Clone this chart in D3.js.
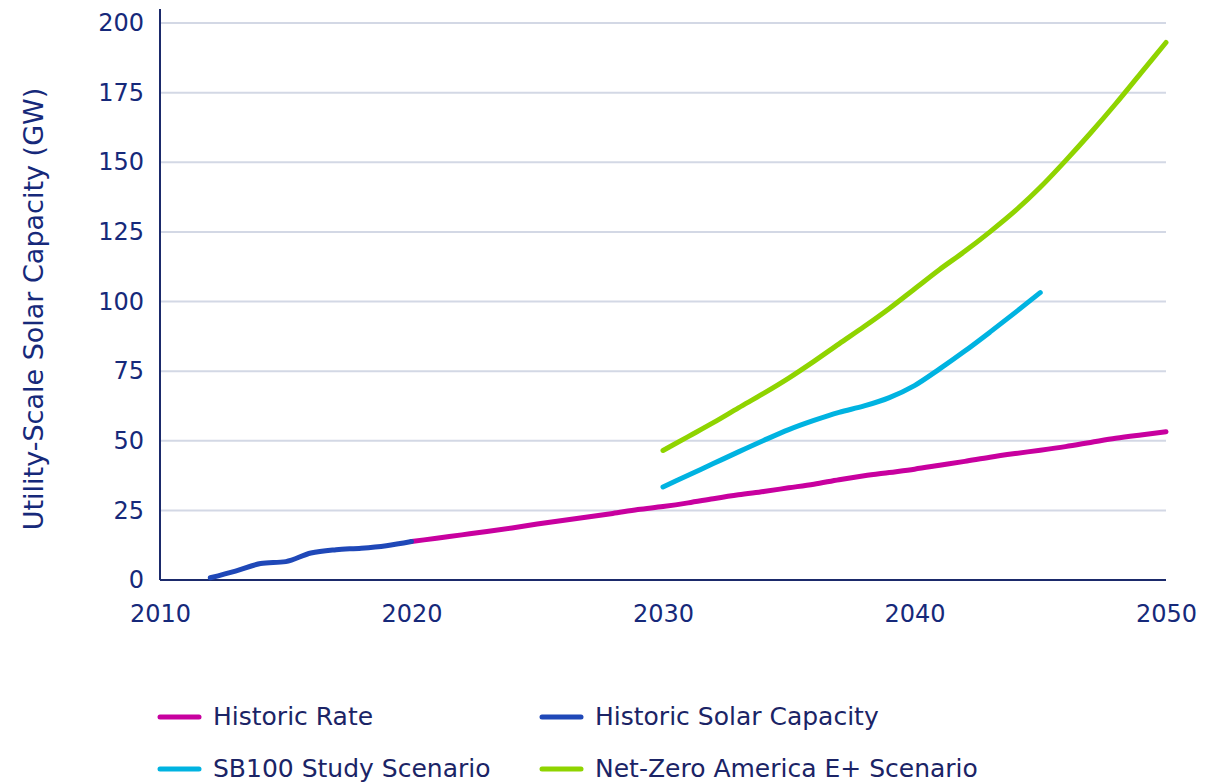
<!DOCTYPE html>
<html>
<head>
<meta charset="utf-8">
<script src="https://cdn.jsdelivr.net/npm/d3@7"></script>
<style>
  body { margin: 0; background: #fff; }
  #chart { width: 1214px; height: 782px; }
  .tick text { font-family: "DejaVu Sans", sans-serif; fill: #16297a; }
</style>
</head>
<body>
<div id="chart"></div>
<script>
// chart data
var historicYears = [2012, 2013, 2014, 2015, 2016, 2017, 2018, 2019, 2020];
var historicCapacity = [0.8, 3.2, 5.9, 6.6, 9.7, 10.9, 11.4, 12.3, 13.8];

var rateYears = d3.range(2020, 2051);
var rateValues = [13.8, 15.0, 16.2, 17.4, 18.7, 20.1, 21.4, 22.6, 23.9, 25.3,
  26.4, 27.7, 29.2, 30.6, 31.8, 33.1, 34.4, 36.0, 37.4, 38.6,
  39.8, 41.2, 42.6, 44.1, 45.4, 46.6, 47.9, 49.4, 50.9, 52.1, 53.2];

var sb100Years = d3.range(2030, 2046);
var sb100Values = [33.4, 37.6, 41.8, 46.0, 50.1, 54.0, 57.3, 60.2, 62.5, 65.5,
  69.8, 75.8, 82.2, 89.0, 96.0, 103.2];

var nzaYears = d3.range(2030, 2051);
var nzaValues = [46.5, 51.5, 56.5, 61.8, 67.0, 72.5, 78.5, 84.8, 91.0, 97.5,
  104.5, 111.5, 118.0, 125.0, 132.5, 141.0, 150.5, 160.5, 171.0, 182.0, 193.0];

var xTicks = [2010, 2020, 2030, 2040, 2050];
var yTicks = [0, 25, 50, 75, 100, 125, 150, 175, 200];

var seriesNames = ["Historic Rate", "Historic Solar Capacity", "SB100 Study Scenario", "Net-Zero America E+ Scenario"];
var seriesColors = ["#c8009f", "#1f48b8", "#00b3e1", "#8fd400"];

(function() {
  var margin = {top: 23, right: 48, bottom: 202, left: 160},
    width = 1214 - margin.left - margin.right,
    height = 782 - margin.top - margin.bottom;

  var x = d3.scaleLinear().domain([2010, 2050]).range([0, width]);
  var y = d3.scaleLinear().domain([0, 200]).range([height, 0]);

  var svg = d3.select("#chart")
    .append("svg")
      .attr("width", 1214)
      .attr("height", 782)
    .append("g")
      .attr("transform", "translate(" + margin.left + "," + margin.top + ")");

  // grid lines
  svg.append("g")
    .selectAll("line")
    .data(yTicks.filter(function(d) { return d > 0; }))
    .enter().append("line")
      .attr("x1", 0)
      .attr("x2", width)
      .attr("y1", function(d) { return y(d); })
      .attr("y2", function(d) { return y(d); })
      .attr("stroke", "#d3d8e5")
      .attr("stroke-width", 2);

  // y axis
  var yAxis = svg.append("g")
    .call(d3.axisLeft(y).tickValues(yTicks).tickSize(0).tickPadding(16));
  yAxis.select(".domain").remove();
  yAxis.selectAll("text").style("font-size", "24px");
  svg.append("line")
    .attr("x1", 0).attr("x2", 0)
    .attr("y1", -14).attr("y2", height)
    .attr("stroke", "#1b2a6b").attr("stroke-width", 2);

  // x axis
  var xAxis = svg.append("g")
    .attr("transform", "translate(0," + height + ")")
    .call(d3.axisBottom(x).tickValues(xTicks).tickFormat(d3.format("d")).tickSize(0).tickPadding(25));
  xAxis.select(".domain").remove();
  xAxis.selectAll("text").style("font-size", "24px");
  svg.append("line")
    .attr("x1", 0).attr("x2", width)
    .attr("y1", height).attr("y2", height)
    .attr("stroke", "#1b2a6b").attr("stroke-width", 2);

  // axis title
  svg.append("text")
    .attr("transform", "translate(" + (33 - margin.left) + "," + (309 - margin.top) + ") rotate(-90)")
    .attr("text-anchor", "middle")
    .attr("dominant-baseline", "central")
    .style("font-family", "DejaVu Sans, sans-serif")
    .style("font-size", "27px")
    .style("fill", "#16297a")
    .text("Utility-Scale Solar Capacity (GW)");

  var line = d3.line()
    .x(function(d) { return x(d[0]); })
    .y(function(d) { return y(d[1]); })
    .curve(d3.curveMonotoneX);

  function drawSeries(years, values, color) {
    svg.append("path")
      .datum(d3.zip(years, values))
      .attr("fill", "none")
      .attr("stroke", color)
      .attr("stroke-width", 5)
      .attr("stroke-linecap", "round")
      .attr("stroke-linejoin", "round")
      .attr("d", line);
  }

  drawSeries(rateYears, rateValues, seriesColors[0]);
  drawSeries(sb100Years, sb100Values, seriesColors[2]);
  drawSeries(nzaYears, nzaValues, seriesColors[3]);
  drawSeries(historicYears, historicCapacity, seriesColors[1]);

  // legend
  var legend = d3.select("#chart svg").append("g");
  var legendPos = [[158, 717], [540, 717], [158, 769], [540, 769]];
  seriesNames.forEach(function(name, i) {
    var p = legendPos[i];
    legend.append("line")
      .attr("x1", p[0] + 2).attr("x2", p[0] + 41)
      .attr("y1", p[1]).attr("y2", p[1])
      .attr("stroke", seriesColors[i])
      .attr("stroke-width", 5)
      .attr("stroke-linecap", "round");
    legend.append("text")
      .attr("x", p[0] + 55)
      .attr("y", p[1] + 8)
      .style("font-family", "DejaVu Sans, sans-serif")
      .style("font-size", "25px")
      .style("fill", "#1b2466")
      .text(name);
  });
})();
</script>
</body>
</html>
